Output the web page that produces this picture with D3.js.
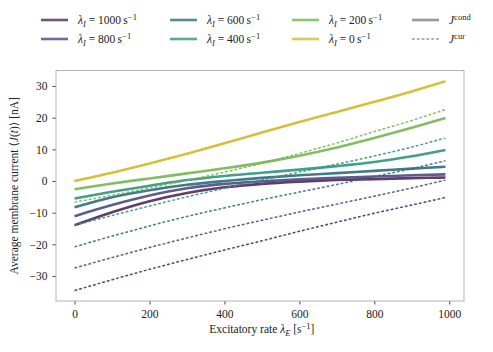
<!DOCTYPE html>
<html>
<head>
<meta charset="utf-8">
<script src="https://cdn.jsdelivr.net/npm/d3@7"></script>
<style>
  body { margin: 0; background: #fff; }
  text { font-family: "Liberation Serif", "DejaVu Serif", serif; fill: #222; }
</style>
</head>
<body>
<div id="chart"></div>
<script>
// svg nominal area
var svgWidth = 493;
var svgHeight = 352;

// plot box inside the svg
var margin = { top: 70.5, right: 29, bottom: 51, left: 56 };
var chartWidth = svgWidth - margin.left - margin.right;
var chartHeight = svgHeight - margin.top - margin.bottom;

// excitatory rate samples (s^-1)
var rateE = [0, 100, 200, 300, 400, 500, 600, 700, 800, 900, 990];

// inhibitory rates, one series each
var rateI = [1000, 800, 600, 400, 200, 0];
var colors = ['#52275f', '#4b4a80', '#2d6c80', '#2f957a', '#74b650', '#d3bc2c'];

// conductance based current J^cond (nA)
var cond1000 = [-14.0, -9.9, -6.4, -3.8, -2.0, -0.9, -0.2, 0.3, 0.6, 0.9, 1.1];
var cond800  = [-11.1, -7.6, -4.6, -2.3, -0.9, -0.1, 0.5, 1.0, 1.4, 1.8, 2.1];
var cond600  = [-8.3, -5.1, -2.9, -1.2, 0.0, 1.0, 1.8, 2.5, 3.2, 3.9, 4.5];
var cond400  = [-5.5, -3.4, -1.5, 0.3, 1.6, 2.6, 3.6, 4.7, 6.0, 7.8, 9.8];
var cond200  = [-2.6, -0.8, 0.8, 2.4, 4.0, 5.8, 8.0, 10.6, 13.6, 16.8, 19.9];
var cond0    = [0.0, 2.6, 5.5, 8.6, 11.9, 15.3, 18.6, 21.8, 25.0, 28.3, 31.5];

// current based J^cur (nA)
var cur1000 = [-34.6, -31.2, -27.9, -24.8, -21.8, -18.9, -15.9, -13.0, -10.2, -7.6, -5.2];
var cur800  = [-27.5, -24.2, -21.0, -18.0, -15.1, -12.4, -9.8, -7.3, -4.8, -2.2, 0.3];
var cur600  = [-20.8, -17.4, -14.2, -11.2, -8.5, -5.9, -3.5, -1.1, 1.4, 3.9, 6.4];
var cur400  = [-14.0, -10.9, -7.9, -5.0, -2.3, 0.3, 2.8, 5.3, 7.9, 10.7, 13.6];
var cur200  = [-6.7, -4.5, -2.2, 0.2, 2.8, 5.6, 8.7, 12.0, 15.6, 19.1, 22.6];
var cur0    = [0.0, 2.6, 5.5, 8.6, 11.9, 15.3, 18.6, 21.8, 25.0, 28.3, 31.5];

var condSeries = [cond1000, cond800, cond600, cond400, cond200, cond0];
var curSeries = [cur1000, cur800, cur600, cur400, cur200, cur0];

var xTicks = [0, 200, 400, 600, 800, 1000];
var yTicks = [-30, -20, -10, 0, 10, 20, 30];

var svg = d3.select('#chart')
    .append('svg')
    .attr('width', svgWidth)
    .attr('height', svgHeight);

var chartGroup = svg.append('g')
    .attr('transform', `translate(${margin.left}, ${margin.top})`);

// matplotlib style 5% margins around the data
var xScale = d3.scaleLinear()
    .domain([-49.5, 1039.5])
    .range([0, chartWidth]);

var yScale = d3.scaleLinear()
    .domain([-37.9, 34.9])
    .range([chartHeight, 0]);

var line = d3.line()
    .x((d, i) => xScale(rateE[i]))
    .y(d => yScale(d))
    .curve(d3.curveMonotoneX);

// axes
var bottomAxis = d3.axisBottom(xScale).tickValues(xTicks).tickSize(3.5).tickPadding(5)
    .tickFormat(d => String(d));
var leftAxis = d3.axisLeft(yScale).tickValues(yTicks).tickSize(3.5).tickPadding(5)
    .tickFormat(d => d < 0 ? '\u2212' + Math.abs(d) : String(d));

var xAxisG = chartGroup.append('g')
    .attr('transform', `translate(0, ${chartHeight})`)
    .call(bottomAxis);
var yAxisG = chartGroup.append('g')
    .call(leftAxis);

[xAxisG, yAxisG].forEach(g => {
    g.select('.domain').remove();
    g.selectAll('.tick line').attr('stroke', '#333').attr('stroke-width', 0.9);
    g.selectAll('.tick text').style('font-size', '11.5px').attr('fill', '#222');
});

// plot frame
chartGroup.append('rect')
    .attr('width', chartWidth)
    .attr('height', chartHeight)
    .attr('fill', 'none')
    .attr('stroke', '#b3b3b3')
    .attr('stroke-width', 1);

// conductance lines
chartGroup.selectAll('.cond')
    .data(condSeries)
    .enter()
    .append('path')
    .attr('class', 'cond')
    .attr('d', d => line(d))
    .attr('fill', 'none')
    .attr('stroke', (d, i) => colors[i])
    .attr('stroke-width', 2.6)
    .attr('opacity', 0.9);

// current based lines
chartGroup.selectAll('.cur')
    .data(curSeries)
    .enter()
    .append('path')
    .attr('class', 'cur')
    .attr('d', d => line(d))
    .attr('fill', 'none')
    .attr('stroke', (d, i) => colors[i])
    .attr('stroke-width', 1.5)
    .attr('stroke-dasharray', '2.8,2')
    .attr('opacity', 0.9);

// axis labels
svg.append('text')
    .attr('x', margin.left + xScale(500))
    .attr('y', 333)
    .attr('text-anchor', 'middle')
    .style('font-size', '11.5px')
    .call(t => {
        t.append('tspan').text('Excitatory rate ');
        t.append('tspan').attr('font-style', 'italic').text('\u03bb');
        t.append('tspan').attr('font-style', 'italic').attr('dy', 2.5).style('font-size', '8.5px').text('E');
        t.append('tspan').attr('dy', -2.5).text(' [s');
        t.append('tspan').attr('dy', -4).style('font-size', '8.5px').text('\u22121');
        t.append('tspan').attr('dy', 4).text(']');
    });

svg.append('text')
    .attr('transform', `translate(18, ${margin.top + chartHeight / 2}) rotate(-90)`)
    .attr('text-anchor', 'middle')
    .style('font-size', '11.5px')
    .call(t => {
        t.append('tspan').text('Average membrane current \u27e8');
        t.append('tspan').attr('font-style', 'italic').text('J');
        t.append('tspan').text('(');
        t.append('tspan').attr('font-style', 'italic').text('t');
        t.append('tspan').text(')\u27e9 [nA]');
    });

// legend
var legendCols = [41, 170, 292, 412];
var legendRows = [20, 39];
var legendItems = rateI.map((r, i) => ({
    col: Math.floor(i / 2), row: i % 2, color: colors[i], rate: r, kind: 'rate'
}));
legendItems.push({ col: 3, row: 0, color: '#808080', kind: 'cond' });
legendItems.push({ col: 3, row: 1, color: '#808080', kind: 'cur' });

var legend = svg.selectAll('.legend')
    .data(legendItems)
    .enter()
    .append('g')
    .attr('class', 'legend')
    .attr('transform', d => `translate(${legendCols[d.col]}, ${legendRows[d.row]})`);

legend.append('line')
    .attr('x1', 0)
    .attr('x2', 27)
    .attr('stroke', d => d.color)
    .attr('stroke-width', d => d.kind === 'cur' ? 1.5 : 2.6)
    .attr('stroke-dasharray', d => d.kind === 'cur' ? '2.8,2' : null)
    .attr('opacity', 0.8);

legend.append('text')
    .attr('x', 37)
    .attr('y', 4)
    .style('font-size', '11.5px')
    .each(function(d) {
        var t = d3.select(this);
        if (d.kind === 'rate') {
            t.append('tspan').attr('font-style', 'italic').text('\u03bb');
            t.append('tspan').attr('font-style', 'italic').attr('dy', 2.5).style('font-size', '8.5px').text('I');
            t.append('tspan').attr('dy', -2.5).text(` = ${d.rate}\u2009s`);
            t.append('tspan').attr('dy', -4).style('font-size', '8.5px').text('\u22121');
        } else {
            t.append('tspan').attr('font-style', 'italic').text('J');
            t.append('tspan').attr('dy', -4).style('font-size', '8.5px').text(d.kind);
        }
    });
</script>
</body>
</html>
